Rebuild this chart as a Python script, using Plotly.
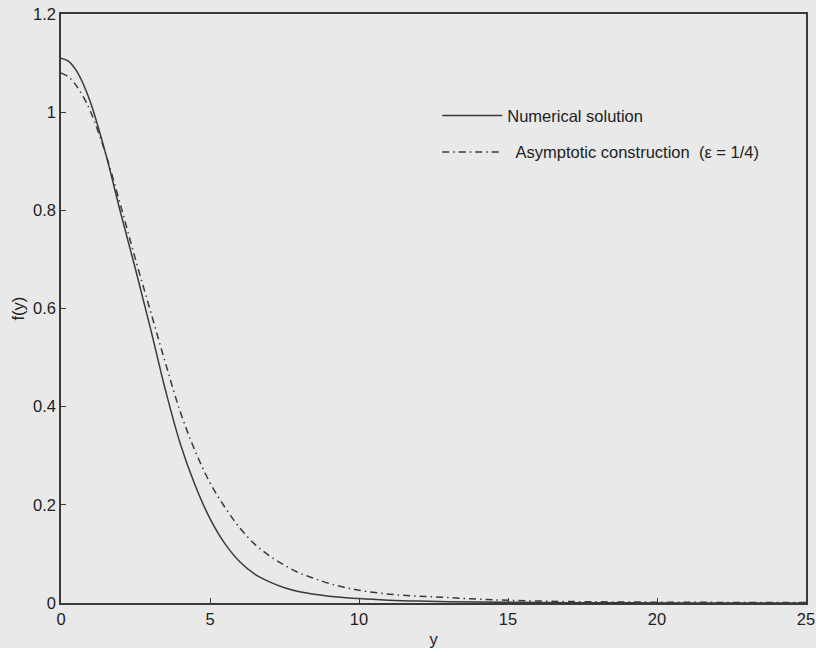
import plotly.graph_objects as go

# Numerical solution
num_y = [0.0, 0.25, 0.5, 0.75, 1.0, 1.5, 2.0, 2.5, 3.0, 3.5, 4.0, 4.5, 5.0, 5.5, 6.0, 6.5, 7.0, 7.5, 8.0, 9.0, 10.0, 11.0, 12.0, 13.0, 15.0, 18.0, 21.0, 25.0]
num_f = [1.11, 1.104, 1.086, 1.057, 1.018, 0.915, 0.795, 0.68, 0.56, 0.435, 0.325, 0.24, 0.172, 0.121, 0.084, 0.059, 0.043, 0.031, 0.023, 0.014, 0.009, 0.0058, 0.0039, 0.0027, 0.0013, 0.0005, 0.0002, 0.0001]

# Asymptotic construction (eps = 1/4)
asy_y = [0.0, 0.25, 0.5, 0.75, 1.0, 1.5, 2.0, 2.5, 3.0, 3.5, 4.0, 4.5, 5.0, 5.5, 6.0, 6.5, 7.0, 7.5, 8.0, 8.5, 9.0, 9.5, 10.0, 11.0, 12.0, 13.0, 14.0, 15.0, 17.0, 20.0, 25.0]
asy_f = [1.08, 1.072, 1.055, 1.031, 1.0, 0.915, 0.81, 0.70, 0.595, 0.49, 0.39, 0.31, 0.245, 0.195, 0.153, 0.12, 0.096, 0.077, 0.061, 0.050, 0.040, 0.032, 0.026, 0.018, 0.014, 0.011, 0.0078, 0.0055, 0.003, 0.0017, 0.0008]

x_ticks = [0, 5, 10, 15, 20, 25]
y_ticks = [0, 0.2, 0.4, 0.6, 0.8, 1.0, 1.2]
y_tick_text = ["0", "0.2", "0.4", "0.6", "0.8", "1", "1.2"]

line_col = "#3a3a3a"
bg = "#e9e9e9"

fig = go.Figure()
fig.add_trace(go.Scatter(
    x=num_y, y=num_f, mode="lines", name="Numerical solution",
    line=dict(color=line_col, width=1.5, shape="spline", smoothing=1.0),
    legendgroup="a"))
fig.add_trace(go.Scatter(
    x=asy_y, y=asy_f, mode="lines", name="  Asymptotic construction  (\u03b5 = 1/4)",
    line=dict(color=line_col, width=1.5, dash="7px,4px,1.5px,4px", shape="spline", smoothing=1.0),
    legendgroup="b"))

fig.update_layout(
    width=816, height=648,
    margin=dict(l=61, r=10, t=14, b=45),
    paper_bgcolor=bg, plot_bgcolor=bg,
    font=dict(family="Liberation Sans, Arial, sans-serif", color="#222", size=16),
    showlegend=True,
    legend=dict(x=0.505, y=0.857, xanchor="left", yanchor="top",
                bgcolor="rgba(0,0,0,0)", borderwidth=0,
                font=dict(size=16.5, color="#222"),
                tracegroupgap=12, itemwidth=60),
    xaxis=dict(range=[0, 25], tickvals=x_ticks, ticks="inside", ticklen=5,
               tickcolor=line_col, showline=True, linecolor=line_col, linewidth=1.5,
               mirror=True, showgrid=False, zeroline=False, automargin=False,
               tickfont=dict(size=16.5),
               title=dict(text="y", standoff=12, font=dict(size=16.5))),
    yaxis=dict(range=[0, 1.2], tickvals=y_ticks, ticktext=y_tick_text, ticks="inside", ticklen=5,
               tickcolor=line_col, showline=True, linecolor=line_col, linewidth=1.5,
               mirror=True, showgrid=False, zeroline=False, automargin=False,
               tickfont=dict(size=16.5)),
    annotations=[dict(text="f(y)", textangle=-90, xref="paper", yref="paper",
                      x=-0.059, y=0.5, xanchor="center", yanchor="middle",
                      showarrow=False, font=dict(size=16.5, color="#222"))],
)

fig.write_html("out.html")
